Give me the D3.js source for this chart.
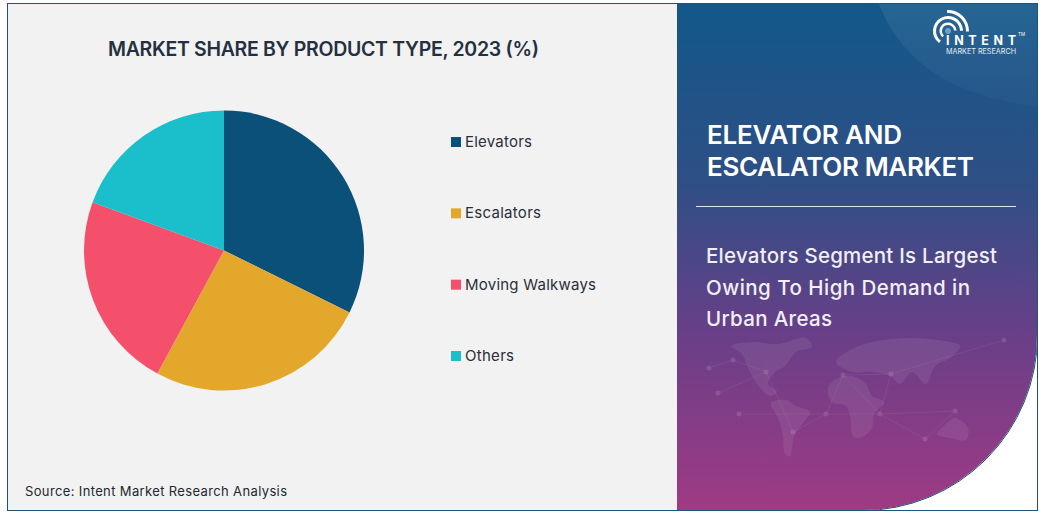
<!DOCTYPE html>
<html>
<head>
<meta charset="utf-8">
<script src="https://cdn.jsdelivr.net/npm/d3@7"></script>
<style>
html, body { margin: 0; padding: 0; background: #fff; }
svg { display: block; }
text { font-family: Inter, "Open Sans", sans-serif; }
</style>
</head>
<body>
<svg id="chart" width="1043" height="513"></svg>
<script>
const categories = ['Elevators', 'Escalators', 'Moving Walkways', 'Others'];
const shares = [32.3, 25.6, 22.7, 19.4];
const colors = ['#0b5078', '#e3a82b', '#f4506c', '#1bbecb'];

const svg = d3.select('#chart');
const defs = svg.append('defs');

const grad = defs.append('linearGradient').attr('id', 'panel').attr('x1', 0).attr('y1', 0).attr('x2', 0).attr('y2', 1);
grad.append('stop').attr('offset', '0%').attr('stop-color', '#12588a');
grad.append('stop').attr('offset', '35%').attr('stop-color', '#2e4f85');
grad.append('stop').attr('offset', '65%').attr('stop-color', '#683f88');
grad.append('stop').attr('offset', '100%').attr('stop-color', '#a03a84');

const sheen = defs.append('linearGradient').attr('id', 'sheen').attr('x1', 0).attr('y1', 0).attr('x2', 0).attr('y2', 1);
sheen.append('stop').attr('offset', '0%').attr('stop-color', '#fff').attr('stop-opacity', 0.08);
sheen.append('stop').attr('offset', '100%').attr('stop-color', '#fff').attr('stop-opacity', 0.02);

// left background and frame
svg.append('rect').attr('x', 7.5).attr('y', 3.5).attr('width', 1030).attr('height', 507)
    .attr('fill', '#f2f2f2').attr('stroke', '#1d5577').attr('stroke-width', 1);

// right panel with rounded lower corner
const panelPath = 'M677,4 H1037 V335 A175,175 0 0 1 862,510 H677 Z';
svg.append('rect').attr('x', 838).attr('y', 330).attr('width', 199).attr('height', 180).attr('fill', '#fff');
svg.append('path').attr('d', panelPath).attr('fill', 'url(#panel)');
svg.append('path').attr('d', 'M1037.5,335 A175.5,175.5 0 0 1 862,510.5').attr('fill', 'none').attr('stroke', '#1d5577').attr('stroke-width', 1);
svg.append('path').attr('d', 'M677,510.5 H862').attr('stroke', '#1d5577').attr('stroke-width', 1);
svg.append('path').attr('d', 'M879,4 C895,45 925,72 960,87 C985,97 1010,103 1037,107 V4 Z').attr('fill', 'url(#sheen)');

// faint map and network behind the panel text
const outline = d3.line().curve(d3.curveCatmullRomClosed.alpha(0.5));
const mapShapes = [
    [[731, 346], [752, 342], [778, 344], [806, 338], [812, 347], [796, 352], [785, 366], [775, 372], [768, 384], [777, 392], [770, 396], [757, 384], [748, 368], [742, 354]],
    [[771, 403], [786, 400], [796, 406], [810, 412], [802, 424], [794, 436], [790, 456], [785, 454], [783, 436], [779, 420]],
    [[828, 388], [838, 378], [852, 376], [866, 384], [872, 396], [884, 402], [874, 414], [872, 428], [860, 438], [853, 436], [850, 416], [846, 406], [832, 402]],
    [[836, 362], [850, 350], [872, 342], [905, 338], [938, 340], [960, 346], [950, 358], [935, 366], [926, 384], [912, 372], [900, 384], [890, 376], [872, 372], [852, 372]],
    [[937, 434], [946, 424], [955, 418], [968, 428], [966, 440], [950, 438]]
];
svg.append('g').attr('fill', '#fff').attr('opacity', 0.07)
    .selectAll('path').data(mapShapes).join('path').attr('d', d => outline(d));

const nodes = [[709, 368], [733, 360], [718, 393], [766, 372], [739, 414], [793, 432], [826, 414], [843, 375], [891, 374], [880, 414], [955, 411], [925, 439], [1004, 340]];
const links = [[0, 1], [1, 3], [2, 3], [3, 5], [4, 6], [5, 6], [6, 7], [6, 9], [7, 8], [8, 9], [9, 10], [10, 11], [8, 12], [9, 11], [7, 9]];
const net = svg.append('g').attr('opacity', 0.12);
net.selectAll('line').data(links).join('line')
    .attr('x1', d => nodes[d[0]][0]).attr('y1', d => nodes[d[0]][1])
    .attr('x2', d => nodes[d[1]][0]).attr('y2', d => nodes[d[1]][1])
    .attr('stroke', '#fff').attr('stroke-width', 0.5);
net.selectAll('circle').data(nodes).join('circle')
    .attr('cx', d => d[0]).attr('cy', d => d[1]).attr('r', 2.5).attr('fill', '#fff');

// title
svg.append('text').attr('x', 108).attr('y', 56).attr('textLength', 431)
    .attr('font-size', 19.5).attr('font-weight', 600).attr('fill', '#24303f')
    .text('MARKET SHARE BY PRODUCT TYPE, 2023 (%)');

// pie
const pie = d3.pie().sort(null);
const arc = d3.arc().innerRadius(0).outerRadius(140);
svg.append('g').attr('transform', 'translate(224,250.5)')
    .selectAll('path').data(pie(shares)).join('path')
    .attr('d', arc).attr('fill', (d, i) => colors[i]);

// legend
const legendY = d3.scalePoint().domain(categories).range([142, 356]);
const legend = svg.append('g').selectAll('g').data(categories).join('g')
    .attr('transform', d => `translate(451,${legendY(d)})`);
legend.append('rect').attr('x', 0).attr('y', -5).attr('width', 10).attr('height', 10)
    .attr('fill', (d, i) => colors[i]);
const legendWidths = [67, 76, 131, 49];
legend.append('text').attr('x', 14).attr('y', 5).attr('font-size', 15).attr('fill', '#2a2f38')
    .attr('textLength', (d, i) => legendWidths[i]).text(d => d);

// source
svg.append('text').attr('x', 25).attr('y', 496).attr('font-size', 13).attr('fill', '#23282f')
    .attr('textLength', 262).text('Source: Intent Market Research Analysis');

// panel text
const heading = [['ELEVATOR AND', 144, 195], ['ESCALATOR MARKET', 176, 267]];
heading.forEach(h => svg.append('text').attr('x', 707).attr('y', h[1]).attr('font-size', 26)
    .attr('font-weight', 600).attr('fill', '#fff').attr('textLength', h[2]).text(h[0]));
svg.append('line').attr('x1', 696).attr('x2', 1016).attr('y1', 206.5).attr('y2', 206.5)
    .attr('stroke', '#fff').attr('stroke-width', 1).attr('opacity', 0.85);
const subhead = [['Elevators Segment Is Largest', 263, 291], ['Owing To High Demand in', 295, 264], ['Urban Areas', 326, 126]];
subhead.forEach(s => svg.append('text').attr('x', 706).attr('y', s[1]).attr('font-size', 20.5)
    .attr('font-weight', 500).attr('fill', '#f2eef5').attr('textLength', s[2]).text(s[0]));

// logo
const logo = svg.append('g').attr('transform', 'translate(948,31)').attr('fill', '#fff');
[[6, 8.5, -2.4, 1.5], [12, 15, -2.5, 1.55], [18, 21, -0.05, 1.6]].forEach(r => {
    logo.append('path').attr('d', d3.arc().innerRadius(r[0]).outerRadius(r[1]).startAngle(r[2]).endAngle(r[3])());
});
logo.append('circle').attr('r', 3).attr('fill', '#6f9fc4');
svg.append('text').attr('x', 946).attr('y', 45).attr('font-size', 12.5).attr('font-weight', 700)
    .attr('fill', '#fff').attr('textLength', 70).text('INTENT');
svg.append('text').attr('x', 946).attr('y', 53.5).attr('font-size', 7.5).attr('fill', '#e6eef4')
    .attr('textLength', 70).attr('lengthAdjust', 'spacingAndGlyphs').text('MARKET RESEARCH');
svg.append('text').attr('x', 1018).attr('y', 36).attr('font-size', 4.5).attr('fill', '#fff').text('TM');
</script>
</body>
</html>
